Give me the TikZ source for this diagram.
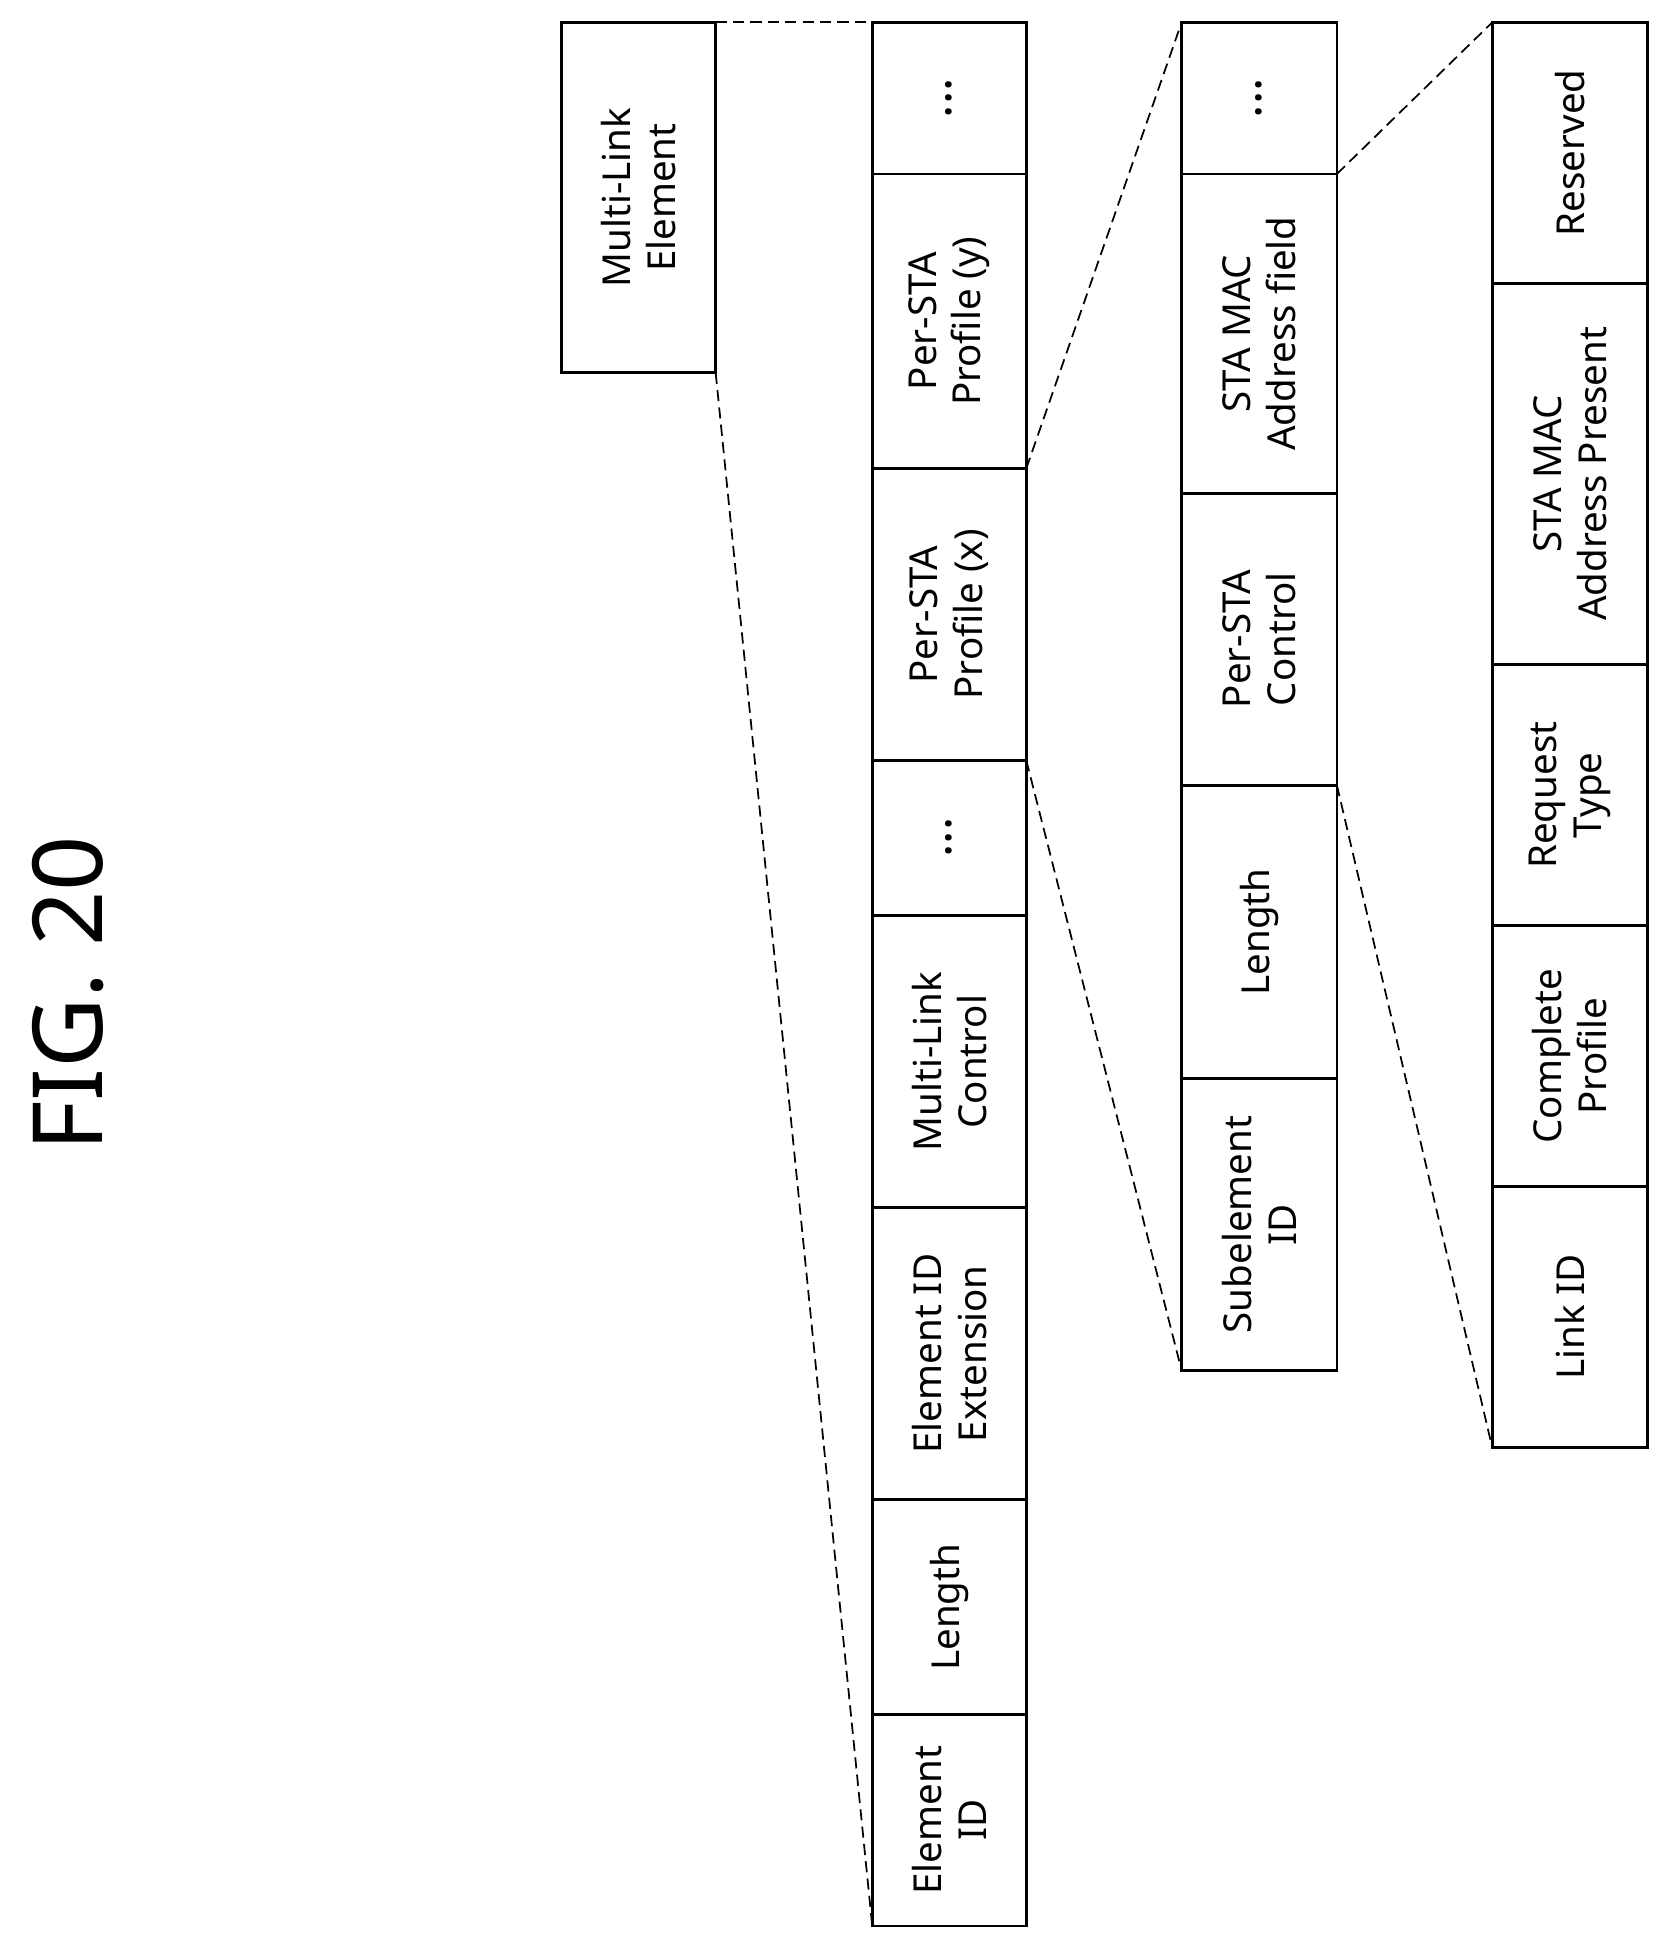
\documentclass[tikz,border=0pt]{standalone}
\usepackage{fontspec}
\setmainfont{Noto Sans}
\begin{document}
\begin{tikzpicture}[x=1pt,y=-1pt,
  cell/.style={draw,line width=2.2pt,inner sep=0pt},
  lbl/.style={rotate=90,align=center,font=\fontsize{31}{36}\selectfont},
  dots/.style={rotate=90,font=\fontsize{40}{40}\selectfont\bfseries},
  dl/.style={line width=1.4pt,dash pattern=on 9pt off 5pt}]
\useasboundingbox (0,0) rectangle (1340,1563);
\newcommand\cellbox[6]{% name,x1,y1,x2,y2,text
  \draw[cell] (#2,#3) rectangle (#4,#5);
  \node[lbl] (#1) at ({(#2+#4)/2},{(#3+#5)/2}) {#6};}
\node[rotate=90,font=\fontsize{78}{80}\selectfont] (fig) at (55,800) {FIG. 20};
% multi-link element
\cellbox{mle}{452}{18}{576}{300}{Multi-Link\\Element}
% column 1
\cellbox{c1a}{702}{18}{826}{140}{}
\node[dots] at (764,79) {...};
\cellbox{c1b}{702}{140}{826}{377}{Per-STA\\Profile (y)}
\cellbox{c1c}{702}{377}{826}{612}{Per-STA\\Profile (x)}
\cellbox{c1d}{702}{612}{826}{737}{}
\node[dots] at (764,674) {...};
\cellbox{c1e}{702}{737}{826}{972}{Multi-Link\\Control}
\cellbox{c1f}{702}{972}{826}{1207}{Element ID\\Extension}
\cellbox{c1g}{702}{1207}{826}{1380}{Length}
\cellbox{c1h}{702}{1380}{826}{1550}{Element\\ID}
% column 2
\cellbox{c2a}{951}{18}{1076}{140}{}
\node[dots] at (1013,79) {...};
\cellbox{c2b}{951}{140}{1076}{397}{STA MAC\\Address field}
\cellbox{c2c}{951}{397}{1076}{632}{Per-STA\\Control}
\cellbox{c2d}{951}{632}{1076}{868}{Length}
\cellbox{c2e}{951}{868}{1076}{1103}{Subelement\\ID}
% column 3
\cellbox{c3a}{1201}{18}{1326}{228}{Reserved}
\cellbox{c3b}{1201}{228}{1326}{535}{STA MAC\\Address Present}
\cellbox{c3c}{1201}{535}{1326}{745}{Request\\Type}
\cellbox{c3d}{1201}{745}{1326}{955}{Complete\\Profile}
\cellbox{c3e}{1201}{955}{1326}{1165}{Link ID}
\coordinate (m1) at (576,18); \coordinate (m2) at (576,300);
\coordinate (a1) at (702,18); \coordinate (a2) at (702,1550);
\coordinate (b1) at (826,377); \coordinate (b2) at (826,612);
\coordinate (d1) at (951,18); \coordinate (d2) at (951,1103);
\coordinate (e1) at (1076,140); \coordinate (e2) at (1076,632);
\coordinate (f1) at (1201,18); \coordinate (f2) at (1201,1165);
\draw[dl] (m1) -- (a1); \draw[dl] (m2) -- (a2);
\draw[dl] (b1) -- (d1); \draw[dl] (b2) -- (d2);
\draw[dl] (e1) -- (f1); \draw[dl] (e2) -- (f2);
\end{tikzpicture}
\end{document}
